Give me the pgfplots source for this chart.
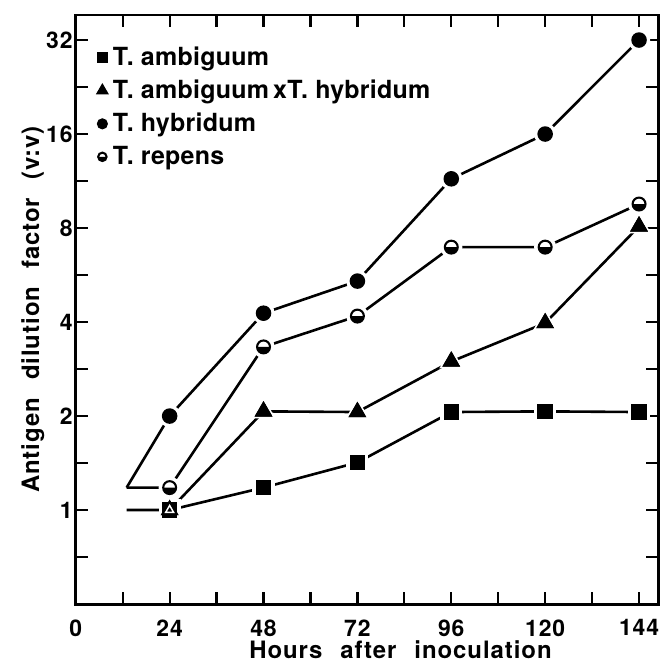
\documentclass[border=0pt]{standalone}
\usepackage{fontspec}
\setmainfont{TeX Gyre Heros}[LetterSpace=4]
\usepackage{pgfplots}
\usepackage{pgfplotstable}
\pgfplotsset{compat=1.18}

\newcommand\labfont{\fontsize{11}{13}\selectfont\bfseries}
\newcommand\axlabfont{\fontsize{11.5}{13}\selectfont\bfseries}
\newcommand\legfont{\fontsize{12}{14}\selectfont\bfseries\addfontfeature{LetterSpace=1}}

% half-filled circle: white top, black bottom
\pgfdeclareplotmark{halfcirc}{%
  \pgfsetfillcolor{white}%
  \pgfpathcircle{\pgfpointorigin}{\pgfplotmarksize}%
  \pgfusepathqfillstroke
  \pgfsetfillcolor{black}%
  \pgfpathmoveto{\pgfqpoint{\pgfplotmarksize}{0pt}}%
  \pgfpatharc{0}{-180}{\pgfplotmarksize}%
  \pgfpathclose
  \pgfusepathqfill
}

% hours  factor ; first row is the unmarked start of the line
\pgfplotstableread{
x y
13 1
24 1
48 1.18
72 1.42
96 2.06
120 2.07
144 2.06
}\ambig
\pgfplotstableread{
x y
24 1
48 2.07
72 2.06
96 2.99
120 3.97
144 8.1
}\cross
\pgfplotstableread{
x y
13 1.18
24 2.0
48 4.27
72 5.41
96 11.5
120 16
144 32
}\hybr
\pgfplotstableread{
x y
13 1.18
24 1.18
48 3.33
72 4.18
96 6.95
120 6.95
144 9.55
}\repens

\begin{document}
\begin{tikzpicture}
\begin{axis}[
    scale only axis,
    width=280pt, height=283pt,
    xmin=0, xmax=149,
    ymode=log, log basis y=2,
    ymin=0.5, ymax=38.5,
    xtick={0,12,...,144},
    xticklabels={0,,24,,48,,72,,96,,120,,144},
    ytick={0.7071,1,1.4142,2,2.8284,4,5.6569,8,11.314,16,22.627,32},
    yticklabels={,1,,2,,4,,8,,16,,32},
    minor tick num=0,
    tick align=inside,
    major tick length=6pt,
    every tick/.style={black, line width=1.1pt},
    axis line style={line width=1.4pt},
    ticklabel style={font=\labfont},
    xticklabel style={yshift=-4pt},
    yticklabel style={xshift=2pt},
    /pgf/number format/assume math mode=true,
    xlabel={Hours\hspace{0.75em}after\hspace{0.75em}inoculation},
    ylabel={Antigen\hspace{0.75em}dilution\hspace{0.75em}factor\hspace{0.75em}(v:v)},
    label style={font=\axlabfont},
    xlabel style={inner sep=0pt, yshift=1.3pt, xshift=16pt},
    ylabel style={yshift=-6pt},
    legend style={draw=none, fill=none, at={(0.0375,0.947)}, anchor=north west,
      font=\legfont, row sep=5.5pt, inner sep=0pt,
      nodes={inner xsep=3pt, inner ysep=0pt}},
    legend cell align=left,
    legend image code/.code={\draw[#1, mark options={scale=0.65}] plot[only marks] coordinates {(0cm,0cm)};},
    every axis plot/.append style={black, line width=1.25pt, mark size=3.1pt},
]
% lines
\addplot[no marks, forget plot] table {\ambig};
\addplot[no marks, forget plot] table {\cross};
\addplot[no marks, forget plot] table {\hybr};
\addplot[no marks, forget plot] table {\repens};
% white halos that cut the lines near the marks
\addplot[only marks, white, mark=square*, mark size=4.7pt, skip coords between index={0}{1}, forget plot] table {\ambig};
\addplot[only marks, white, mark=triangle*, mark size=5.4pt, forget plot] table {\cross};
\addplot[only marks, white, mark=*, mark size=4.7pt, skip coords between index={0}{1}, forget plot] table {\hybr};
\addplot[only marks, white, mark=*, mark size=4.7pt, skip coords between index={0}{1}, forget plot] table {\repens};
% marks
\addplot[only marks, mark=triangle*, mark size=3.7pt, forget plot] table {\cross};
\addplot[only marks, mark=square*, skip coords between index={0}{1}] table {\ambig};
\addplot[only marks, mark=triangle*, mark size=3.7pt] table {\cross};
\addplot[only marks, mark=*, skip coords between index={0}{1}] table {\hybr};
\addplot[only marks, mark=halfcirc, line width=1pt, skip coords between index={0}{1}] table {\repens};
% triangle seen inside the square at 24 h
\addplot[only marks, white, mark=triangle, mark size=2.2pt, line width=0.7pt, forget plot] coordinates {(24,1)};
\legend{T. ambiguum, T. ambiguum\,xT. hybridum, T. hybridum, T. repens}
\end{axis}
% margins as in the original figure
\path (current axis.south west) ++(-36.4pt,-29.7pt);
\path (current axis.north east) ++(1.44pt,7.2pt);
\end{tikzpicture}
\end{document}
